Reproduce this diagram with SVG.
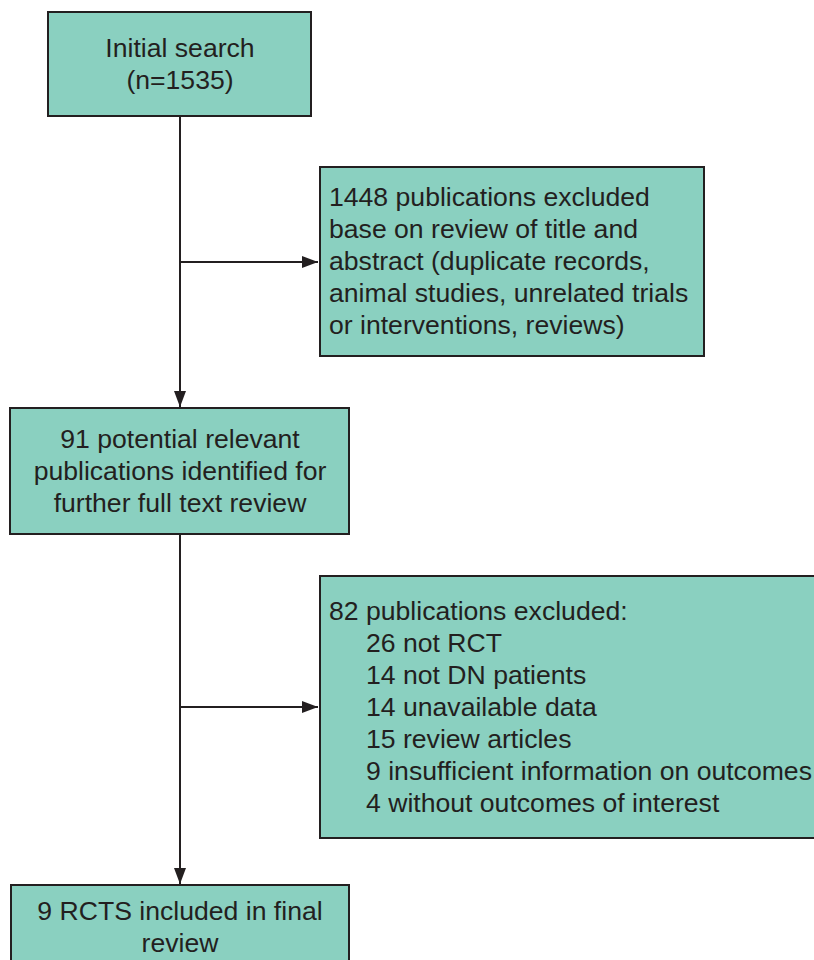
<svg xmlns="http://www.w3.org/2000/svg" width="814" height="960" viewBox="0 0 814 960">
<defs>
<marker id="arr" viewBox="0 0 16 12" refX="16" refY="6" markerWidth="16" markerHeight="12" markerUnits="userSpaceOnUse" orient="auto">
<path d="M0,0 L16,6 L0,12 Z" fill="#231f20"/>
</marker>
<style>
.box{fill:#8ad0c0;stroke:#231f20;stroke-width:2}
.t{font-family:"Liberation Sans",Arial,sans-serif;font-size:26.6px;fill:#231f20}
.c{text-anchor:middle}
.ln{stroke:#231f20;stroke-width:2;fill:none}
</style>
</defs>
<rect width="814" height="960" fill="#ffffff"/>
<g id="connectors">
<line class="ln" x1="180" y1="116" x2="180" y2="407" marker-end="url(#arr)"/>
<line class="ln" x1="180" y1="262" x2="318" y2="262" marker-end="url(#arr)"/>
<line class="ln" x1="180" y1="534" x2="180" y2="884" marker-end="url(#arr)"/>
<line class="ln" x1="180" y1="707" x2="318" y2="707" marker-end="url(#arr)"/>
</g>
<g id="initial">
<rect class="box" x="48" y="12" width="263" height="104"/>
<text class="t c" x="180" y="57">Initial search</text>
<text class="t c" x="180" y="89">(n=1535)</text>
</g>
<g id="excluded1">
<rect class="box" x="320" y="167" width="384" height="189"/>
<text class="t" x="329" y="206">1448 publications excluded</text>
<text class="t" x="329" y="238">base on review of title and</text>
<text class="t" x="329" y="270">abstract (duplicate records,</text>
<text class="t" x="329" y="302">animal studies, unrelated trials</text>
<text class="t" x="329" y="334">or interventions, reviews)</text>
</g>
<g id="potential">
<rect class="box" x="10" y="408" width="339" height="126"/>
<text class="t c" x="180" y="448">91 potential relevant</text>
<text class="t c" x="180" y="480">publications identified for</text>
<text class="t c" x="180" y="512">further full text review</text>
</g>
<g id="excluded2">
<rect class="box" x="320" y="576" width="520" height="262"/>
<text class="t" x="329" y="620">82 publications excluded:</text>
<text class="t" x="366" y="652">26 not RCT</text>
<text class="t" x="366" y="684">14 not DN patients</text>
<text class="t" x="366" y="716">14 unavailable data</text>
<text class="t" x="366" y="748">15 review articles</text>
<text class="t" x="366" y="780">9 insufficient information on outcomes</text>
<text class="t" x="366" y="812">4 without outcomes of interest</text>
</g>
<g id="final">
<rect class="box" x="11" y="885" width="338" height="90"/>
<text class="t c" x="180" y="920">9 RCTS included in final</text>
<text class="t c" x="180" y="952">review</text>
</g>
</svg>
